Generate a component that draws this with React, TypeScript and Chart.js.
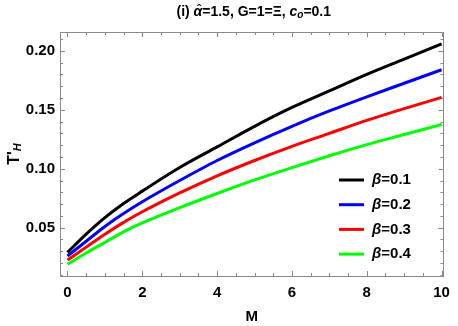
import React, { useEffect, useRef } from "react";
import { Chart, registerables } from "chart.js";

Chart.register(...registerables);

// ---- data ----
const M_VALUES = [0, 0.5, 1, 1.5, 2, 3, 4, 5, 6, 7, 8, 9, 10];
const T_BETA_01 = [0.029, 0.0445, 0.0585, 0.0705, 0.081, 0.101, 0.1185, 0.136, 0.152, 0.166, 0.18, 0.193, 0.206];
const T_BETA_02 = [0.026, 0.0385, 0.051, 0.062, 0.072, 0.09, 0.107, 0.122, 0.136, 0.149, 0.161, 0.1725, 0.184];
const T_BETA_03 = [0.0225, 0.0335, 0.0445, 0.0545, 0.0635, 0.0795, 0.094, 0.107, 0.119, 0.13, 0.141, 0.151, 0.1605];
const T_BETA_04 = [0.019, 0.0285, 0.0375, 0.0465, 0.054, 0.067, 0.079, 0.0905, 0.101, 0.111, 0.1205, 0.129, 0.1375];
const SERIES_LABELS = ["β=0.1", "β=0.2", "β=0.3", "β=0.4"];
const SERIES_COLORS = ["#000000", "#0000ff", "#ff0000", "#00ff00"];
const X_TICKS = [0, 2, 4, 6, 8, 10];
const X_MINOR_STEP = 0.5;
const Y_TICKS = [0.05, 0.1, 0.15, 0.2];
const Y_MINOR_STEP = 0.01;
const X_TITLE = "M";

const FONT = "'Liberation Sans', Arial, sans-serif";
const FRAME_COLOR = "#8a8a8a";

const framePlugin = {
  id: "frameTicks",
  beforeDatasetsDraw(chart: any) {
    const { ctx, chartArea: a, scales } = chart;
    const xs = scales.x;
    const ys = scales.y;
    ctx.save();
    ctx.strokeStyle = FRAME_COLOR;
    ctx.lineWidth = 1;
    ctx.strokeRect(Math.round(a.left) + 0.5, Math.round(a.top) + 0.5, Math.round(a.right - a.left), Math.round(a.bottom - a.top));
    ctx.beginPath();
    for (let i = Math.ceil(xs.min / X_MINOR_STEP); i * X_MINOR_STEP <= xs.max; i++) {
      const v = i * X_MINOR_STEP;
      const major = X_TICKS.some((t) => Math.abs(t - v) < 1e-9);
      const len = major ? 5 : 3;
      const px = Math.round(xs.getPixelForValue(v)) + 0.5;
      ctx.moveTo(px, a.bottom);
      ctx.lineTo(px, a.bottom - len);
      ctx.moveTo(px, a.top);
      ctx.lineTo(px, a.top + len);
    }
    for (let i = Math.ceil(ys.min / Y_MINOR_STEP - 1e-9); i * Y_MINOR_STEP <= ys.max + 1e-9; i++) {
      const v = i * Y_MINOR_STEP;
      const major = Y_TICKS.some((t) => Math.abs(t - v) < 1e-9);
      const len = major ? 5 : 3;
      const py = Math.round(ys.getPixelForValue(v)) + 0.5;
      ctx.moveTo(a.left, py);
      ctx.lineTo(a.left + len, py);
      ctx.moveTo(a.right, py);
      ctx.lineTo(a.right - len, py);
    }
    ctx.stroke();
    ctx.restore();
  },
  afterDraw(chart: any) {
    const { ctx, chartArea: a } = chart;
    ctx.save();
    ctx.fillStyle = "#000";
    ctx.textBaseline = "middle";

    // title: (i) α̂=1.5, G=1=Ξ, c_o=0.1
    const segs: { t: string; f: string; dy: number; hat?: boolean }[] = [
      { t: "(i) ", f: `bold 14px ${FONT}`, dy: 0 },
      { t: "α", f: `italic bold 14px ${FONT}`, dy: 0, hat: true },
      { t: "=1.5, G=1=Ξ, ", f: `bold 14px ${FONT}`, dy: 0 },
      { t: "c", f: `italic bold 14px ${FONT}`, dy: 0 },
      { t: "o", f: `italic bold 10px ${FONT}`, dy: 3 },
      { t: "=0.1", f: `bold 14px ${FONT}`, dy: 0 },
    ];
    let total = 0;
    for (const s of segs) {
      ctx.font = s.f;
      total += ctx.measureText(s.t).width;
    }
    let x = (a.left + a.right) / 2 - total / 2 + 2;
    ctx.textAlign = "left";
    const ty = 12;
    for (const s of segs) {
      ctx.font = s.f;
      const w = ctx.measureText(s.t).width;
      ctx.fillText(s.t, x, ty + s.dy);
      if (s.hat) {
        ctx.save();
        ctx.font = `bold 12px ${FONT}`;
        ctx.textAlign = "center";
        ctx.fillText("\u02C6", x + w / 2 + 1, ty - 1);
        ctx.restore();
      }
      x += w;
    }

    // y-axis title: T'_H
    ctx.save();
    ctx.translate(15, (a.top + a.bottom) / 2);
    ctx.rotate(-Math.PI / 2);
    const ySegs = [
      { t: "T'", f: `bold 16px ${FONT}`, dy: 0 },
      { t: "H", f: `italic bold 11px ${FONT}`, dy: 3 },
    ];
    let yw = 0;
    for (const s of ySegs) {
      ctx.font = s.f;
      yw += ctx.measureText(s.t).width;
    }
    let yx = -yw / 2;
    for (const s of ySegs) {
      ctx.font = s.f;
      ctx.fillText(s.t, yx, s.dy);
      yx += ctx.measureText(s.t).width;
    }
    ctx.restore();

    // legend inside plot
    const lx0 = 339;
    const lx1 = 364;
    const ly0 = 180;
    const lstep = 24.7;
    chart.data.datasets.forEach((ds: any, i: number) => {
      const y = ly0 + i * lstep;
      ctx.strokeStyle = ds.borderColor;
      ctx.lineWidth = 3;
      ctx.beginPath();
      ctx.moveTo(lx0, y);
      ctx.lineTo(lx1, y);
      ctx.stroke();
      const label: string = ds.label;
      ctx.font = `italic bold 15px ${FONT}`;
      const first = label.charAt(0);
      ctx.fillText(first, 372, y);
      const w = ctx.measureText(first).width;
      ctx.font = `bold 15px ${FONT}`;
      ctx.fillText(label.slice(1), 372 + w, y);
    });
    ctx.restore();
  },
};

export default function App() {
  const ref = useRef<HTMLCanvasElement | null>(null);
  useEffect(() => {
    if (!ref.current) return;
    const series = [T_BETA_01, T_BETA_02, T_BETA_03, T_BETA_04];
    const chart = new Chart(ref.current, {
      type: "line",
      data: {
        datasets: series.map((vals, i) => ({
          label: SERIES_LABELS[i],
          data: M_VALUES.map((m, j) => ({ x: m, y: vals[j] })),
          borderColor: SERIES_COLORS[i],
          backgroundColor: SERIES_COLORS[i],
          borderWidth: 3,
          pointRadius: 0,
          cubicInterpolationMode: "monotone" as const,
          fill: false,
        })),
      },
      options: {
        responsive: false,
        animation: false,
        layout: { padding: { left: 0, right: 9, top: 32, bottom: 0 } },
        plugins: {
          legend: { display: false },
          tooltip: { enabled: false },
          title: { display: false },
        },
        scales: {
          x: {
            type: "linear",
            min: -0.2,
            max: 10.05,
            grid: { display: false, drawTicks: false },
            border: { display: false },
            afterBuildTicks: (s: any) => {
              s.ticks = X_TICKS.map((v) => ({ value: v }));
            },
            afterFit: (s: any) => {
              s.height = 50;
            },
            ticks: {
              padding: 8,
              color: "#000",
              font: { family: FONT, size: 15, weight: "bold" },
              callback: (v: any) => String(v),
            },
            title: {
              display: true,
              text: X_TITLE,
              color: "#000",
              padding: { top: 0, bottom: 0 },
              font: { family: FONT, size: 15, weight: "bold" },
            },
          },
          y: {
            type: "linear",
            min: 0.009,
            max: 0.216,
            grid: { display: false, drawTicks: false },
            border: { display: false },
            afterBuildTicks: (s: any) => {
              s.ticks = Y_TICKS.map((v) => ({ value: v }));
            },
            afterFit: (s: any) => {
              s.width = 60;
            },
            ticks: {
              padding: 5,
              color: "#000",
              font: { family: FONT, size: 15, weight: "bold" },
              callback: (v: any) => Number(v).toFixed(2),
            },
          },
        },
      },
      plugins: [framePlugin],
    });
    return () => chart.destroy();
  }, []);
  return (
    <div style={{ position: "fixed", left: 0, top: 0, width: 458, height: 326, background: "#fff" }}>
      <canvas ref={ref} width={458} height={326} />
    </div>
  );
}
